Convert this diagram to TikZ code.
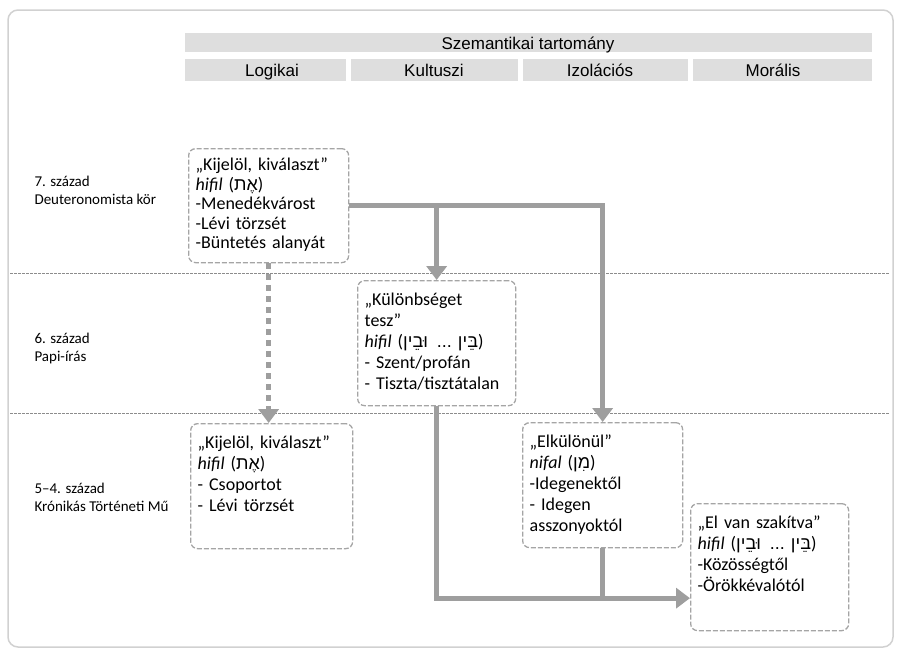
\documentclass[tikz,border=0pt]{standalone}
\usepackage{fontspec}
\setmainfont{Carlito}
\newfontfamily\fejfont{Liberation Sans}
\newfontfamily\heber[Script=Hebrew]{Liberation Sans}
\TeXXeTstate=1
\usetikzlibrary{arrows.meta}
\usetikzlibrary{calc}
\definecolor{nyilszurke}{RGB}{158,158,158}
\definecolor{keretszurke}{RGB}{165,165,165}
\tikzstyle{doboz}=[draw=keretszurke,dash pattern=on 5pt off 2pt,line width=1.3pt,rounded corners=7pt,anchor=north west,align=left,inner xsep=7pt,inner ysep=4pt,text width=146pt,text height=21pt,text depth=96pt,font=\fontsize{18}{21}\selectfont]
\tikzstyle{szazad}=[anchor=west,align=left,font=\fontsize{15}{18}\selectfont]
\tikzstyle{nyil}=[draw=nyilszurke,line width=5pt,-{Triangle[width=20pt,length=14pt]}]
\tikzstyle{vonal}=[draw=nyilszurke,line width=5pt]
\tikzstyle{elvalaszto}=[draw=black!45,line width=0.8pt,dash pattern=on 2.5pt off 1.5pt]
\tikzstyle{fejlec}=[fill=black!13]
\tikzstyle{fejszoveg}=[anchor=base,font=\fejfont\fontsize{17}{20}\selectfont]

\begin{document}
\begin{tikzpicture}[x=1pt,y=-1pt]
\useasboundingbox (0,0) rectangle (901,656);
\draw[black!18,line width=1.5pt,rounded corners=10pt] (8,10) rectangle (893,647);

%fejlec
\fill[fejlec] (185,33) rectangle (872,52);
\node[fejszoveg] (tartomany) at (528,49) {Szemantikai tartomány};
\foreach \xa/\xb/\xt/\name/\felirat in {185/346/272/logikai/Logikai, 351/518/434/kultuszi/Kultuszi, 523/688/600/izolacios/Izolációs, 693/872/773/moralis/Morális}
  {
  \fill[fejlec] (\xa,59) rectangle (\xb,81);
  \node[fejszoveg] (\name) at (\xt,76) {\felirat};
  }

%korszakok
\foreach \y in {273,413}
  \draw[elvalaszto] (10,\y) -- (890,\y);

\node[szazad] (sz7) at (31,190) {7. század\\Deuteronomista kör};
\node[szazad] (sz6) at (31,348) {6. század\\Papi-írás};
\node[szazad] (sz54) at (31,497) {5--4. század\\Krónikás Történeti Mű};

%dobozok
\node[doboz,text height=18pt,text depth=88pt,font=\fontsize{18}{19.5}\selectfont] (A) at (188,148) {„Kijelöl, kiválaszt”\\\textit{hifil} ({\heber\beginR אֶת\endR})\\-Menedékvárost\\-Lévi törzsét\\-Büntetés alanyát};
\node[doboz,text width=144pt] (B) at (357,280) {„Különbséget\\tesz”\\\textit{hifil} ({\heber\beginR בֵּין ... וּבֵין\endR})\\- Szent/profán\\- Tiszta/tisztátalan};
\node[doboz,text width=148pt] (C) at (190,423) {„Kijelöl, kiválaszt”\\\textit{hifil} ({\heber\beginR אֶת\endR})\\- Csoportot\\- Lévi törzsét};
\node[doboz] (D) at (522,422) {„Elkülönül”\\\textit{nifal} ({\heber\beginR מִן\endR})\\-Idegenektől\\- Idegen\\asszonyoktól};
\node[doboz,text width=144pt,text depth=98pt] (E) at (690,503) {„El van szakítva”\\\textit{hifil} ({\heber\beginR בֵּין ... וּבֵין\endR})\\-Közösségtől\\-Örökkévalótól};

%nyilak
\draw[nyil] (A.east) -| (D.north);
\draw[nyil] (A.east -| B.north) -- (B.north);
\draw[nyil,dash pattern=on 6pt off 5pt] (A.south) -- (A.south |- C.north);
\coordinate (tor) at ([yshift=-31pt]E.west);
\draw[nyil] (B.south) |- (tor);
\draw[vonal] (D.south) -- (D.south |- tor);

\end{tikzpicture}
\end{document}
